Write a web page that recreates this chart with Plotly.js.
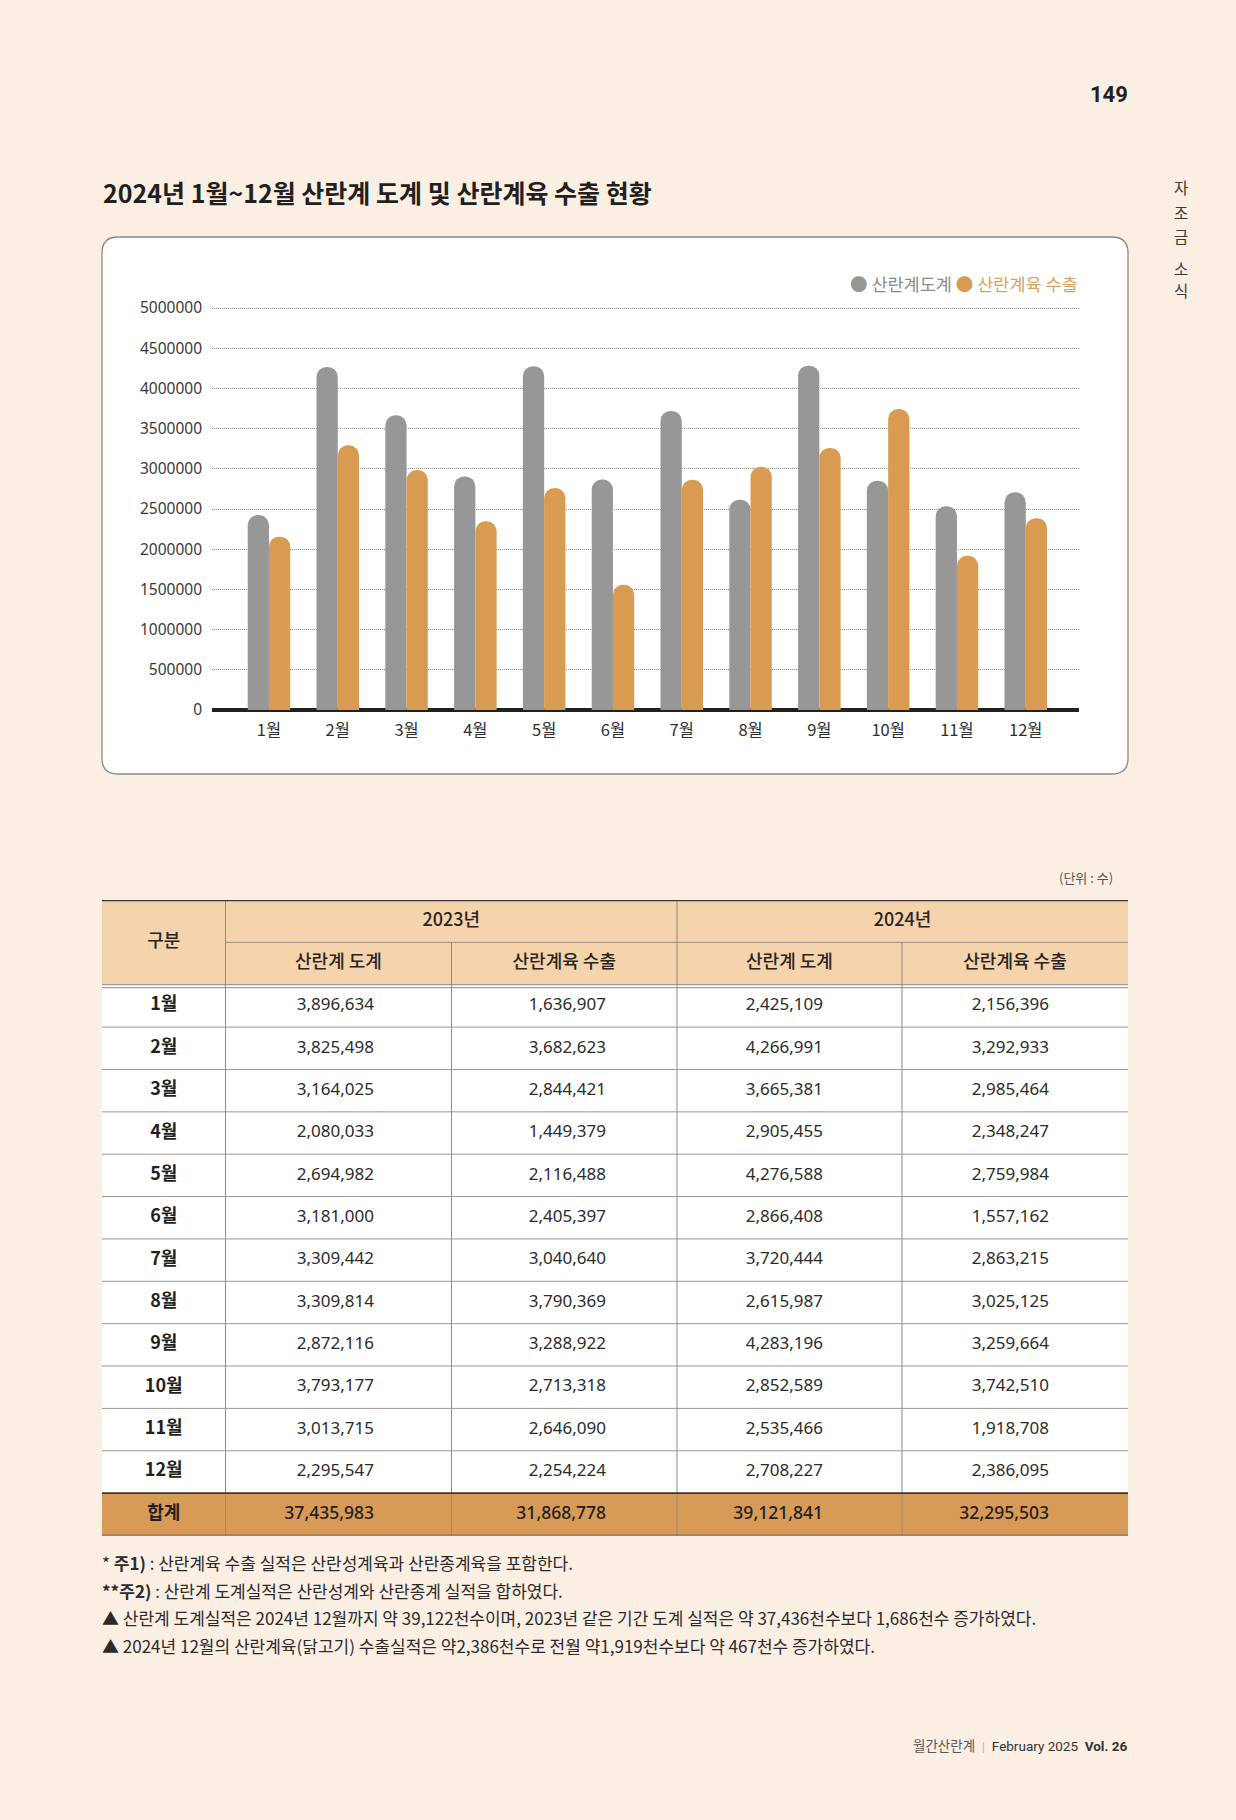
<!DOCTYPE html>
<html><head><meta charset="utf-8">
<script src="https://cdn.plot.ly/plotly-3.0.1.min.js"></script>
<style>html,body{margin:0;padding:0;background:#FBEEE3;} #chart{width:1236px;height:1820px;}</style>
</head><body><div id="chart"></div>
<script>
// ---------- data ----------
const months = ['1월','2월','3월','4월','5월','6월','7월','8월','9월','10월','11월','12월'];
const slaughter2023 = [3896634, 3825498, 3164025, 2080033, 2694982, 3181000, 3309442, 3309814, 2872116, 3793177, 3013715, 2295547];
const export2023    = [1636907, 3682623, 2844421, 1449379, 2116488, 2405397, 3040640, 3790369, 3288922, 2713318, 2646090, 2254224];
const slaughter2024 = [2425109, 4266991, 3665381, 2905455, 4276588, 2866408, 3720444, 2615987, 4283196, 2852589, 2535466, 2708227];
const export2024    = [2156396, 3292933, 2985464, 2348247, 2759984, 1557162, 2863215, 3025125, 3259664, 3742510, 1918708, 2386095];
const totals        = [37435983, 31868778, 39121841, 32295503];
const seriesNames   = ['산란계도계', '산란계육 수출'];
const yearHeaders   = ['2023년', '2024년'];
const subHeaders    = ['산란계 도계', '산란계육 수출', '산란계 도계', '산란계육 수출'];
const rowHeader     = '구분';
const totalLabel    = '합계';

// ---------- helpers ----------
const W = 1236, H = 1820;
const px = x => x / W;
const py = y => 1 - y / H;
const KR = 'Noto Sans CJK KR, Noto Sans, sans-serif';
const NUM = 'Noto Sans, Noto Sans CJK KR, sans-serif';
const GREY = '#979797', ORANGE = '#D99B52';
const fmt = v => v.toLocaleString('en-US');

function roundRect(x0, y0, x1, y1, r) {
  const rx = r / W, ry = r / H;
  const X0 = px(x0), X1 = px(x1), T = py(y0), B = py(y1);
  return `M${X0+rx},${T} L${X1-rx},${T} Q${X1},${T} ${X1},${T-ry} L${X1},${B+ry} Q${X1},${B} ${X1-rx},${B} ` +
         `L${X0+rx},${B} Q${X0},${B} ${X0},${B+ry} L${X0},${T-ry} Q${X0},${T} ${X0+rx},${T} Z`;
}

// ---------- chart traces ----------
const traces = [
  {type:'bar', x: months, y: slaughter2024, name: seriesNames[0], marker:{color: GREY}, xaxis:'x', yaxis:'y', showlegend:false, hoverinfo:'skip'},
  {type:'bar', x: months, y: export2024, name: seriesNames[1], marker:{color: ORANGE}, xaxis:'x', yaxis:'y', showlegend:false, hoverinfo:'skip'}
];

// ---------- table (xaxis2 / yaxis2; x in px from table left, y in row units) ----------
const colEdges = [0, 123.5, 349.5, 575, 800, 1026];
const numAnchors = [272, 504, 721, 947];
const colCenter = i => (colEdges[i] + colEdges[i+1]) / 2;
const nData = months.length;
const rowY = i => 2.5 + i;
const totalRow = 2 + nData;
const tableCols = [slaughter2023, export2023, slaughter2024, export2024];

traces.push({
  type:'scatter', mode:'text', xaxis:'x2', yaxis:'y2', showlegend:false, hoverinfo:'skip',
  x: months.map(() => colCenter(0)).concat([colCenter(0)]),
  y: months.map((m, i) => rowY(i)).concat([totalRow + 0.5]),
  text: months.concat([totalLabel]),
  textposition:'middle center',
  textfont:{family: KR, size: 18, color:'#231f20', weight: 700}
});
tableCols.forEach((col, c) => {
  traces.push({
    type:'scatter', mode:'text', xaxis:'x2', yaxis:'y2', showlegend:false, hoverinfo:'skip',
    x: col.map(() => numAnchors[c]),
    y: col.map((v, i) => rowY(i)),
    text: col.map(fmt),
    textposition:'middle left',
    textfont:{family: NUM, size: 17, color:'#2b2b2b'}
  });
});
traces.push({
  type:'scatter', mode:'text', xaxis:'x2', yaxis:'y2', showlegend:false, hoverinfo:'skip',
  x: numAnchors.slice(),
  y: totals.map(() => totalRow + 0.5),
  text: totals.map(fmt),
  textposition:'middle left',
  textfont:{family: NUM, size: 17.5, color:'#231f20', weight: 500}
});
traces.push({
  type:'scatter', mode:'text', xaxis:'x2', yaxis:'y2', showlegend:false, hoverinfo:'skip',
  x: [colCenter(0), (colEdges[1]+colEdges[3])/2, (colEdges[3]+colEdges[5])/2].concat(subHeaders.map((s, i) => colCenter(i+1))),
  y: [1, 0.5, 0.5].concat(subHeaders.map(() => 1.5)),
  text: [rowHeader].concat(yearHeaders).concat(subHeaders),
  textposition:'middle center',
  textfont:{family: KR, size: 18, color:'#2a2320', weight: 500}
});

// ---------- shapes ----------
const shapes = [];
shapes.push({type:'path', xref:'paper', yref:'paper', layer:'below', path: roundRect(102, 237, 1128, 774, 16),
  fillcolor:'#ffffff', line:{color:'#8e8883', width:1.3}});
const T = (x0, y0, x1, y1, fill) => shapes.push({type:'rect', xref:'x2', yref:'y2', layer:'below', x0, x1, y0, y1, fillcolor: fill, line:{width:0}});
T(colEdges[0], 0, colEdges[5], 2, '#F4D3AD');
T(colEdges[0], 2, colEdges[5], totalRow, '#ffffff');
T(colEdges[0], totalRow, colEdges[5], totalRow + 1, '#D89B57');
const L = (x0, y0, x1, y1, color, width) => shapes.push({type:'line', xref:'x2', yref:'y2', x0, x1, y0, y1, line:{color, width}});
L(colEdges[1], 0, colEdges[1], totalRow + 1, '#8f8a86', 1);
L(colEdges[3], 0, colEdges[3], totalRow + 1, '#8f8a86', 1);
L(colEdges[2], 1, colEdges[2], totalRow + 1, '#8f8a86', 1);
L(colEdges[4], 1, colEdges[4], totalRow + 1, '#8f8a86', 1);
L(colEdges[1], 1, colEdges[5], 1, '#9a8f86', 1);
L(colEdges[0], 2, colEdges[5], 2, '#8a8582', 1);
L(colEdges[0], 2.07, colEdges[5], 2.07, '#8a8582', 1);
for (let i = 1; i < nData; i++) L(colEdges[0], 2 + i, colEdges[5], 2 + i, '#9a9794', 1);
L(colEdges[0], totalRow, colEdges[5], totalRow, '#3b3431', 1.6);
L(colEdges[0], totalRow + 1, colEdges[5], totalRow + 1, '#3b3431', 1.6);
L(colEdges[0], 0, colEdges[5], 0, '#3b3431', 2.6);

// ---------- annotations ----------
const ann = [];
const A = (o) => ann.push(Object.assign({xref:'paper', yref:'paper', showarrow:false}, o));
A({x: px(101), y: py(192), xanchor:'left', yanchor:'middle', text:'2024년 1월~12월 산란계 도계 및 산란계육 수출 현황',
   font:{family: KR, size: 25, color:'#231f20', weight: 700}});
A({x: px(1130), y: py(94), xanchor:'right', yanchor:'middle', text:'149',
   font:{family:'Liberation Sans Narrow, Roboto, sans-serif', size: 22, color:'#231f20', weight: 700}});
const sideChars = ['자','조','금','소','식'];
const sideYs = [187, 212, 236, 268, 290];
sideChars.forEach((ch, i) => A({x: px(1181), y: py(sideYs[i]), xanchor:'center', yanchor:'middle', text: ch,
   font:{family: KR, size: 15.5, color:'#3a3a3a'}}));
A({x: px(1080), y: py(283), xanchor:'right', yanchor:'middle',
   text:`<span style="color:${GREY}">●</span><span style="color:#8c8c8c"> ${seriesNames[0]} </span><span style="color:${ORANGE}">● </span><span style="color:#D9A260">${seriesNames[1]}</span>`,
   font:{family: KR, size: 17.5, color:'#8c8c8c'}});
A({x: px(1115), y: py(877), xanchor:'right', yanchor:'middle', text:'(단위 : 수)',
   font:{family: KR, size: 13, color:'#555555'}});
const notes = [
  '* <b>주1)</b> : 산란계육 수출 실적은 산란성계육과 산란종계육을 포함한다.',
  '<b>**주2)</b> : 산란계 도계실적은 산란성계와 산란종계 실적을 합하였다.',
  '▲ 산란계 도계실적은 2024년 12월까지 약 39,122천수이며, 2023년 같은 기간 도계 실적은 약 37,436천수보다 1,686천수 증가하였다.',
  '▲ 2024년 12월의 산란계육(닭고기) 수출실적은 약2,386천수로 전월 약1,919천수보다 약 467천수 증가하였다.'
];
const noteYs = [1562, 1590, 1617, 1645];
notes.forEach((t, i) => A({x: px(100), y: py(noteYs[i]), xanchor:'left', yanchor:'middle', text: t,
   font:{family: KR, size: 17, color:'#2b2b2b'}}));
A({x: px(1129), y: py(1746), xanchor:'right', yanchor:'middle',
   text:'<span style="color:#555">월간산란계</span>  <span style="color:#bbb">|</span>  February 2025  <b>Vol. 26</b>',
   font:{family:'Roboto, Noto Sans CJK KR, sans-serif', size: 13.5, color:'#333333'}});

// ---------- layout ----------
const yTop = 5100000;
const pxPerUnit = 402 / 5000000;
const layout = {
  width: W, height: H,
  margin:{l:0, r:0, t:0, b:0, pad:0},
  paper_bgcolor:'#FBEEE3', plot_bgcolor:'rgba(0,0,0,0)',
  barmode:'group', bargap:0.382, bargroupgap:0, barcornerradius: 10,
  showlegend:false,
  xaxis:{domain:[px(212), px(1079)], anchor:'y', type:'category', range:[-0.828, 11.774],
         showgrid:false, showline:false, zeroline:false, ticks:'', ticklabelstandoff: 8,
         tickfont:{family: KR, size: 16.5, color:'#2f2f2f'}, fixedrange:true},
  yaxis:{domain:[py(710), py(710 - pxPerUnit * yTop)], anchor:'x', range:[0, yTop], dtick:500000, tickformat:'d',
         showgrid:true, gridcolor:'#8a8a8a', griddash:'1px,1px', gridwidth:1,
         zeroline:true, zerolinecolor:'#231f20', zerolinewidth:4, showline:false, ticks:'',
         ticklabelstandoff: 9, tickfont:{family: NUM, size: 15.5, color:'#3a3a3a'}, fixedrange:true},
  xaxis2:{domain:[px(102), px(1128)], anchor:'y2', range:[0, 1026], visible:false, fixedrange:true},
  yaxis2:{domain:[py(1535.5), py(900)], anchor:'x2', range:[totalRow + 1, 0], visible:false, fixedrange:true},
  shapes: shapes,
  annotations: ann
};

Plotly.newPlot('chart', traces, layout, {staticPlot:true, displayModeBar:false});
</script>
</body></html>
